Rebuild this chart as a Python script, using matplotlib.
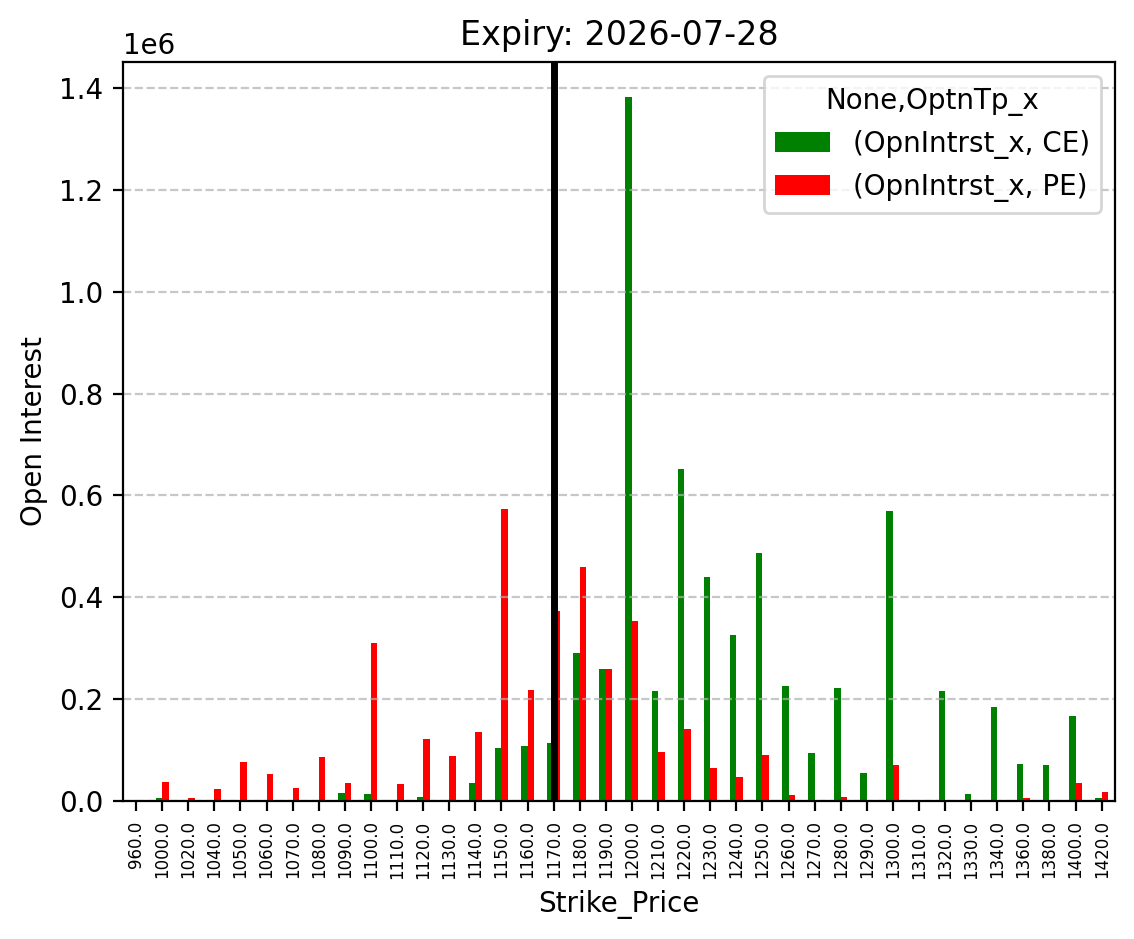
import pandas as pd
import matplotlib
matplotlib.use("Agg")
import matplotlib.pyplot as plt

# strike fiyatlari ve acik pozisyon (open interest) degerleri
strikes = [960.0, 1000.0, 1020.0, 1040.0, 1050.0, 1060.0, 1070.0, 1080.0, 1090.0, 1100.0,
           1110.0, 1120.0, 1130.0, 1140.0, 1150.0, 1160.0, 1170.0, 1180.0, 1190.0, 1200.0,
           1210.0, 1220.0, 1230.0, 1240.0, 1250.0, 1260.0, 1270.0, 1280.0, 1290.0, 1300.0,
           1310.0, 1320.0, 1330.0, 1340.0, 1360.0, 1380.0, 1400.0, 1420.0]
ce_oi = [0, 6000, 0, 0, 0, 0, 0, 0, 16000, 14000,
         0, 8000, 0, 35000, 104000, 108000, 114000, 290000, 259000, 1382000,
         216000, 652000, 440000, 326000, 487000, 226000, 94000, 222000, 55000, 569000,
         0, 216000, 14000, 184000, 72000, 71000, 167000, 5000]
pe_oi = [0, 37000, 6000, 24000, 77000, 53000, 26000, 86000, 35000, 310000,
         33000, 122000, 88000, 135000, 573000, 218000, 373000, 460000, 259000, 353000,
         96000, 141000, 65000, 47000, 90000, 12000, 0, 8000, 0, 71000,
         0, 0, 0, 0, 6000, 0, 35000, 18000]
spot_strike = 1170.0

df = pd.DataFrame({("OpnIntrst_x", "CE"): ce_oi, ("OpnIntrst_x", "PE"): pe_oi},
                  index=pd.Index(strikes, name="Strike_Price"))
df.columns.names = [None, "OptnTp_x"]

fig = plt.figure(figsize=(5.67, 4.695), dpi=200)
ax = fig.add_axes([0.1085, 0.147, 0.8745, 0.787])
df.plot(kind="bar", color=["green", "red"], ax=ax)

ax.axvline(strikes.index(spot_strike), color="black", linewidth=2.5)
ax.set_title("Expiry: 2026-07-28")
ax.set_ylabel("Open Interest")
ax.tick_params(axis="x", labelsize=6)
ax.grid(axis="y", linestyle="--", alpha=0.7)

fig.savefig("out.png", dpi=200)
